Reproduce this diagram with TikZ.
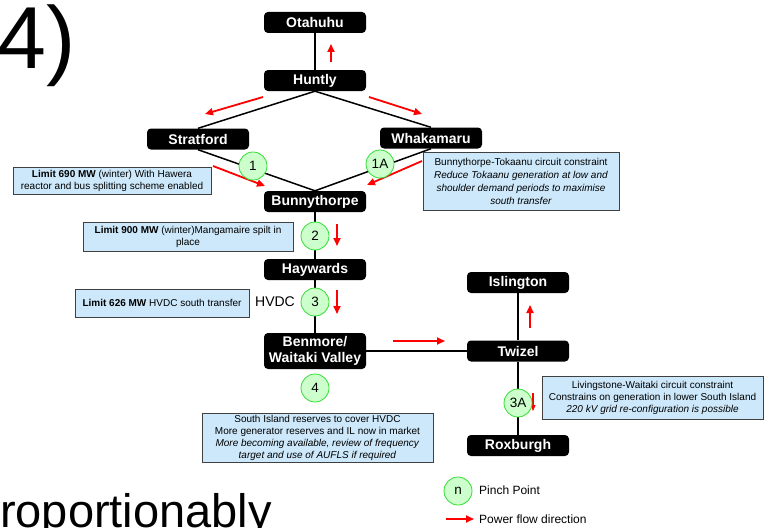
\documentclass[tikz,border=0pt]{standalone}
\usepackage{fontspec}
\setmainfont{Liberation Sans}
\usetikzlibrary{arrows.meta,backgrounds}
\definecolor{pinchfill}{HTML}{CCFFCC}
\definecolor{pinchdraw}{HTML}{33DD33}
\definecolor{notefill}{HTML}{CCE8FA}
\definecolor{notedraw}{HTML}{404040}
\tikzset{
 station/.style={fill=black, text=white, rounded corners=4pt, minimum width=102pt, minimum height=21pt, inner sep=0pt, font=\fontsize{14}{16}\selectfont\bfseries, align=center},
 pinch/.style={circle, fill=pinchfill, draw=pinchdraw, line width=0.8pt, minimum size=28pt, inner sep=0pt, font=\fontsize{13.5}{15}\selectfont},
 note/.style={fill=notefill, draw=notedraw, line width=0.7pt, inner sep=0pt, align=center, font=\fontsize{10}{12}\selectfont},
 link/.style={line width=1.5pt},
 flow/.style={red, line width=1.8pt, -{Triangle[length=8pt,width=7pt]}},
 plain/.style={inner sep=0pt},
}
\begin{document}
\begin{tikzpicture}[x=1pt,y=-1pt]
\useasboundingbox (0,0) rectangle (765,527);
% stations
\node[station] (ota) at (315,22.5) {Otahuhu};
\node[station] (hun) at (315,80.5) {Huntly};
\node[station] (str) at (198,139) {Stratford};
\node[station] (wha) at (431,138) {Whakamaru};
\node[station] (bun) at (315,201.5) {Bunnythorpe};
\node[station] (hay) at (315,269.5) {Haywards};
\node[station, minimum height=36pt, font=\fontsize{14}{16}\selectfont\bfseries] (ben) at (315,351) {Benmore/\\Waitaki Valley};
\node[station] (twi) at (518,351) {Twizel};
\node[station] (isl) at (518,282.5) {Islington};
\node[station] (rox) at (518,445.5) {Roxburgh};
% pinch points
\node[pinch] (p1) at (253,166) {1};
\node[pinch] (p1a) at (380,164) {1A};
\node[pinch] (p2) at (315,236) {2};
\node[pinch] (p3) at (315,302) {3};
\node[pinch] (p4) at (315,388) {4};
\node[pinch] (p3a) at (518,403) {3A};
% notes
\node[note, minimum width=198pt, minimum height=27pt] (n1) at (112,181) {\textbf{Limit 690 MW} (winter) With Hawera\\reactor and bus splitting scheme enabled};
\node[note, minimum width=196pt, minimum height=58pt, font=\fontsize{10}{13}\selectfont] (n1a) at (521,181) {Bunnythorpe-Tokaanu circuit constraint\\\textit{Reduce Tokaanu generation at low and}\\\textit{shoulder demand periods to maximise}\\\textit{south transfer}};
\node[note, minimum width=210pt, minimum height=29pt] (n2) at (188,236.5) {\textbf{Limit 900 MW} (winter)Mangamaire spilt in\\place};
\node[note, minimum width=174pt, minimum height=28pt] (n3) at (162,303) {\textbf{Limit 626 MW} HVDC south transfer};
\node[note, minimum width=231pt, minimum height=49pt] (n4) at (317.5,437.5) {South Island reserves to cover HVDC\\More generator reserves and IL now in market\\\textit{More becoming available, review of frequency}\\\textit{target and use of AUFLS if required}};
\node[note, minimum width=221pt, minimum height=43pt] (n3a) at (652.5,397.5) {Livingstone-Waitaki circuit constraint\\Constrains on generation in lower South Island\\\textit{220 kV grid re-configuration is possible}};
\node[plain, font=\fontsize{14}{16}\selectfont] (hvdc) at (275,302) {HVDC};
% legend
\node[pinch] (leg) at (458,491) {n};
\node[plain, anchor=west, font=\fontsize{12}{14}\selectfont] (legp) at (479,490) {Pinch Point};
\node[plain, anchor=west, font=\fontsize{12}{14}\selectfont] (legf) at (479,519) {Power flow direction};
\coordinate (la0) at (446,519);
\coordinate (la1) at (474,519);
% big texts
\node[plain, anchor=base west, font=\fontsize{88}{90}\selectfont] (big4) at (-3,68) {4)};
\node[plain, anchor=base west, font=\fontsize{47}{50}\selectfont] (bigr) at (0,527) {roportionably};
% arrows coordinates
\coordinate (a0s) at (331,62); \coordinate (a0e) at (331,44);
\coordinate (a1s) at (263,97); \coordinate (a1e) at (205,114);
\coordinate (a2s) at (369,97); \coordinate (a2e) at (422,114);
\coordinate (a3s) at (213,166); \coordinate (a3e) at (265,186);
\coordinate (a4s) at (422,161); \coordinate (a4e) at (367,185);
\coordinate (a5s) at (337,224); \coordinate (a5e) at (337,246);
\coordinate (a6s) at (337,290); \coordinate (a6e) at (337,314);
\coordinate (a7s) at (393,341); \coordinate (a7e) at (445,341);
\coordinate (a8s) at (530,328); \coordinate (a8e) at (530,305);
\coordinate (a9s) at (533,393); \coordinate (a9e) at (533,411);
\begin{scope}[on background layer]
\draw[link] (ota.south) -- (hun.north);
\draw[link] (hun.south) -- (str.north);
\draw[link] (hun.south) -- (wha.north);
\draw[link] (str.south) -- (bun.north);
\draw[link] (wha.south) -- (bun.north);
\draw[link] (bun.south) -- (hay.north);
\draw[link] (hay.south) -- (ben.north);
\draw[link] (ben.east) -- (twi.west);
\draw[link] (twi.north) -- (isl.south);
\draw[link] (twi.south) -- (rox.north);
\draw[flow] (a0s) -- (a0e);
\draw[flow] (a1s) -- (a1e);
\draw[flow] (a2s) -- (a2e);
\draw[flow] (a3s) -- (a3e);
\draw[flow] (a4s) -- (a4e);
\draw[flow] (a5s) -- (a5e);
\draw[flow] (a6s) -- (a6e);
\draw[flow] (a7s) -- (a7e);
\draw[flow] (a8s) -- (a8e);
\draw[flow, line width=1.2pt, -{Triangle[length=6pt,width=5pt]}] (a9s) -- (a9e);
\draw[flow] (la0) -- (la1);
\end{scope}
\end{tikzpicture}
\end{document}
